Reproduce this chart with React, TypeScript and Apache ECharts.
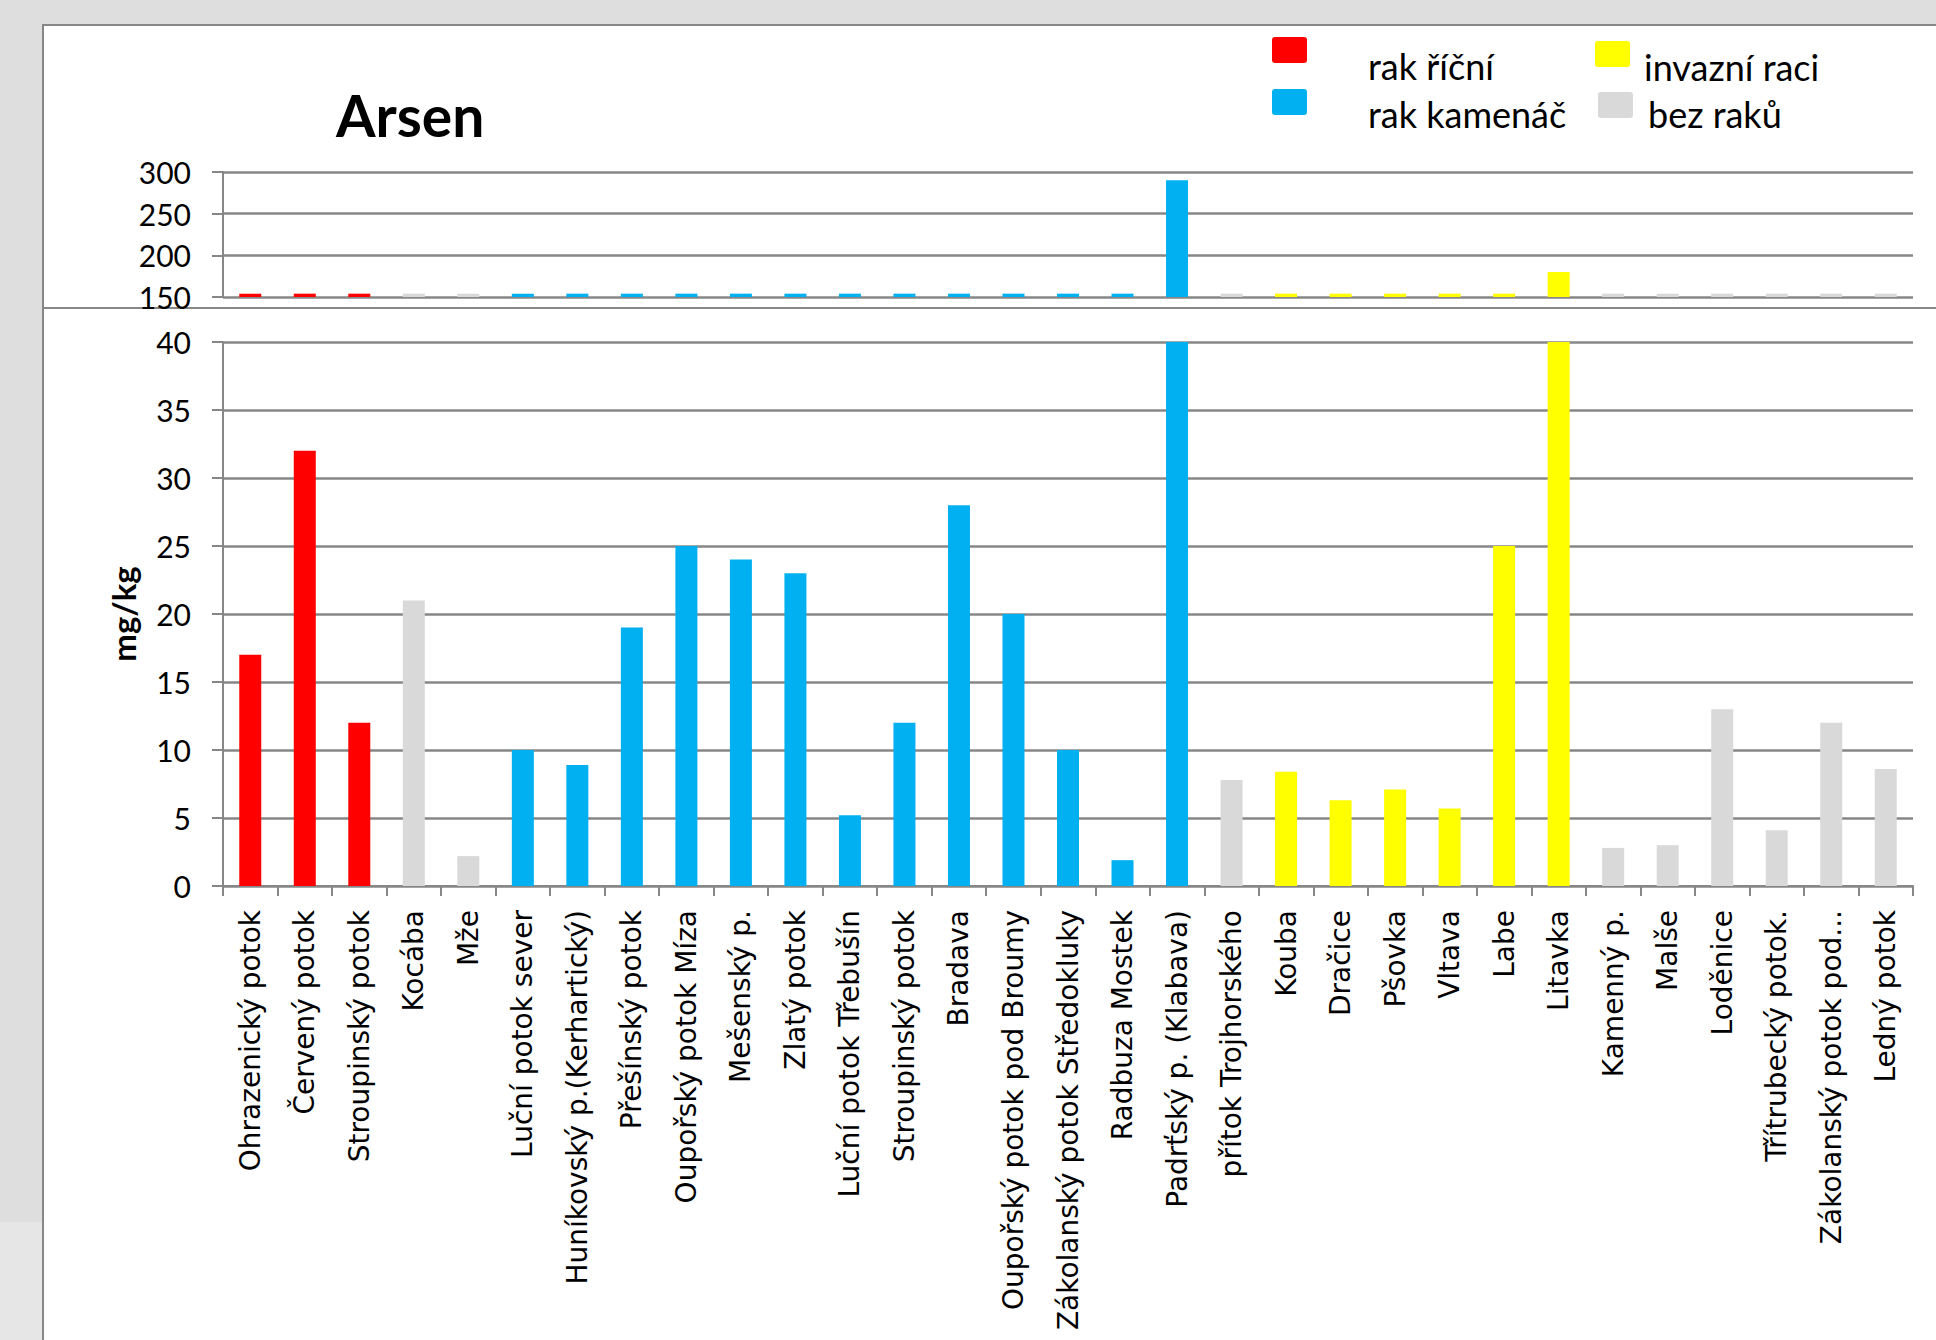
import React, { useEffect, useRef } from "react";
import * as echarts from "echarts";

// ---- data ----
const categories: string[] = [
  "Ohrazenický potok",
  "Červený potok",
  "Stroupinský potok",
  "Kocába",
  "Mže",
  "Luční potok sever",
  "Huníkovský p.(Kerhartický)",
  "Přešínský potok",
  "Oupořský potok Míza",
  "Mešenský p.",
  "Zlatý potok",
  "Luční potok Třebušín",
  "Stroupinský potok",
  "Bradava",
  "Oupořský potok pod Broumy",
  "Zákolanský potok Středokluky",
  "Radbuza Mostek",
  "Padrťský p. (Klabava)",
  "přítok Trojhorského",
  "Kouba",
  "Dračice",
  "Pšovka",
  "Vltava",
  "Labe",
  "Litavka",
  "Kamenný p.",
  "Malše",
  "Loděnice",
  "Třítrubecký potok.",
  "Zákolanský potok pod...",
  "Ledný potok",
];

const values: number[] = [
  17, 32, 12, 21, 2.2, 10, 8.9, 19, 25, 24, 23, 5.2, 12, 28, 20, 10, 1.9, 290,
  7.8, 8.4, 6.3, 7.1, 5.7, 25, 180, 2.8, 3.0, 13, 4.1, 12, 8.6,
];

const groupNames: string[] = ["rak říční", "rak kamenáč", "invazní raci", "bez raků"];
const groupColors: string[] = ["#ff0000", "#00b0f0", "#ffff00", "#d9d9d9"];
const groupOf: number[] = [
  0, 0, 0, 3, 3, 1, 1, 1, 1, 1, 1, 1, 1, 1, 1, 1, 1, 1, 3, 2, 2, 2, 2, 2, 2, 3,
  3, 3, 3, 3, 3,
];

const topTicks: number[] = [150, 200, 250, 300];
const bottomTicks: number[] = [0, 5, 10, 15, 20, 25, 30, 35, 40];

const titleText = "Arsen";
const unitText = "mg/kg";

export default function App() {
  const ref = useRef<HTMLDivElement>(null);

  useEffect(() => {
    if (!ref.current) return;
    const chart = echarts.init(ref.current, null, { renderer: "svg" });

    const gridColor = "#878787";
    const tickFont = { fontFamily: "Lato", fontSize: 30, color: "#000" };
    const topMin = topTicks[0];
    // values under the top panel's range show as a thin stub on its floor
    const stubUnits = 4;

    const itemsBottom = values.map((v, i) => ({
      value: v,
      itemStyle: { color: groupColors[groupOf[i]] },
    }));
    const itemsTop = values.map((v, i) => ({
      value: Math.max(v, topMin + stubUnits),
      itemStyle: { color: groupColors[groupOf[i]] },
    }));

    // legend (2 x 2 layout)
    const legendPos = [
      { rx: 1272, ry: 37, tx: 1368, ty: 66 },
      { rx: 1272, ry: 89, tx: 1368, ty: 114 },
      { rx: 1595, ry: 41, tx: 1644, ty: 67 },
      { rx: 1598, ry: 92, tx: 1648, ty: 114 },
    ];
    const legendEls: any[] = [];
    groupNames.forEach((name, i) => {
      const p = legendPos[i];
      legendEls.push({
        type: "rect",
        shape: { x: p.rx, y: p.ry, width: 35, height: 26, r: 3 },
        style: { fill: groupColors[i] },
        z: 10,
      });
      legendEls.push({
        type: "text",
        x: p.tx,
        y: p.ty,
        style: {
          text: name,
          fontFamily: "Lato",
          fontSize: 36,
          fill: "#000",
          textVerticalAlign: "middle",
          textAlign: "left",
        },
        z: 10,
      });
    });

    const option: any = {
      animation: false,
      backgroundColor: "#dedede",
      title: {
        text: titleText,
        left: 331,
        top: 81,
        textStyle: { fontFamily: "Lato", fontSize: 57, fontWeight: "bold", color: "#000" },
      },
      graphic: [
        {
          type: "rect",
          shape: { x: 0, y: 1222, width: 43, height: 118 },
          style: { fill: "#e6e6e6" },
          z: -20,
        },
        {
          type: "rect",
          shape: { x: 43, y: 25, width: 1936 - 43 + 10, height: 1340 - 25 + 10 },
          style: { fill: "#ffffff", stroke: gridColor, lineWidth: 2 },
          z: -10,
        },
        {
          type: "line",
          shape: { x1: 43, y1: 308, x2: 1936, y2: 308 },
          style: { stroke: gridColor, lineWidth: 2 },
          z: -5,
        },
        ...legendEls,
      ],
      grid: [
        { left: 223, right: 23, top: 172, height: 125 },
        { left: 223, right: 23, top: 342, height: 544 },
      ],
      xAxis: [
        {
          type: "category",
          gridIndex: 0,
          data: categories,
          show: false,
        },
        {
          type: "category",
          gridIndex: 1,
          data: categories,
          axisLine: { lineStyle: { color: gridColor, width: 2 } },
          axisTick: { show: true, length: 10, interval: 0, lineStyle: { color: gridColor, width: 2 } },
          axisLabel: {
            interval: 0,
            rotate: 90,
            margin: 24,
            fontFamily: "DejaVu Sans",
            fontSize: 28,
            color: "#000",
          },
        },
      ],
      yAxis: [
        {
          type: "value",
          gridIndex: 0,
          min: topTicks[0],
          max: topTicks[topTicks.length - 1],
          interval: topTicks[1] - topTicks[0],
          axisLine: { show: true, lineStyle: { color: gridColor, width: 2 } },
          axisTick: { show: true, length: 11, lineStyle: { color: gridColor, width: 2 } },
          axisLabel: { ...tickFont, margin: 32 },
          splitLine: { show: true, lineStyle: { color: gridColor, width: 2.5 } },
        },
        {
          type: "value",
          gridIndex: 1,
          min: bottomTicks[0],
          max: bottomTicks[bottomTicks.length - 1],
          interval: bottomTicks[1] - bottomTicks[0],
          name: unitText,
          nameLocation: "middle",
          nameRotate: 90,
          nameGap: 84,
          nameTextStyle: { fontFamily: "Lato", fontSize: 33, fontWeight: "bold", color: "#000" },
          axisLine: { show: true, lineStyle: { color: gridColor, width: 2 } },
          axisTick: { show: true, length: 11, lineStyle: { color: gridColor, width: 2 } },
          axisLabel: { ...tickFont, margin: 32 },
          splitLine: { show: true, lineStyle: { color: gridColor, width: 2.5 } },
        },
      ],
      series: [
        {
          type: "bar",
          xAxisIndex: 0,
          yAxisIndex: 0,
          data: itemsTop,
          barWidth: 22,
          clip: true,
        },
        {
          type: "bar",
          xAxisIndex: 1,
          yAxisIndex: 1,
          data: itemsBottom,
          barWidth: 22,
          clip: true,
        },
      ],
    };

    chart.setOption(option);
    return () => chart.dispose();
  }, []);

  return (
    <div
      ref={ref}
      style={{ position: "absolute", left: 0, top: 0, width: 1936, height: 1340 }}
    />
  );
}
